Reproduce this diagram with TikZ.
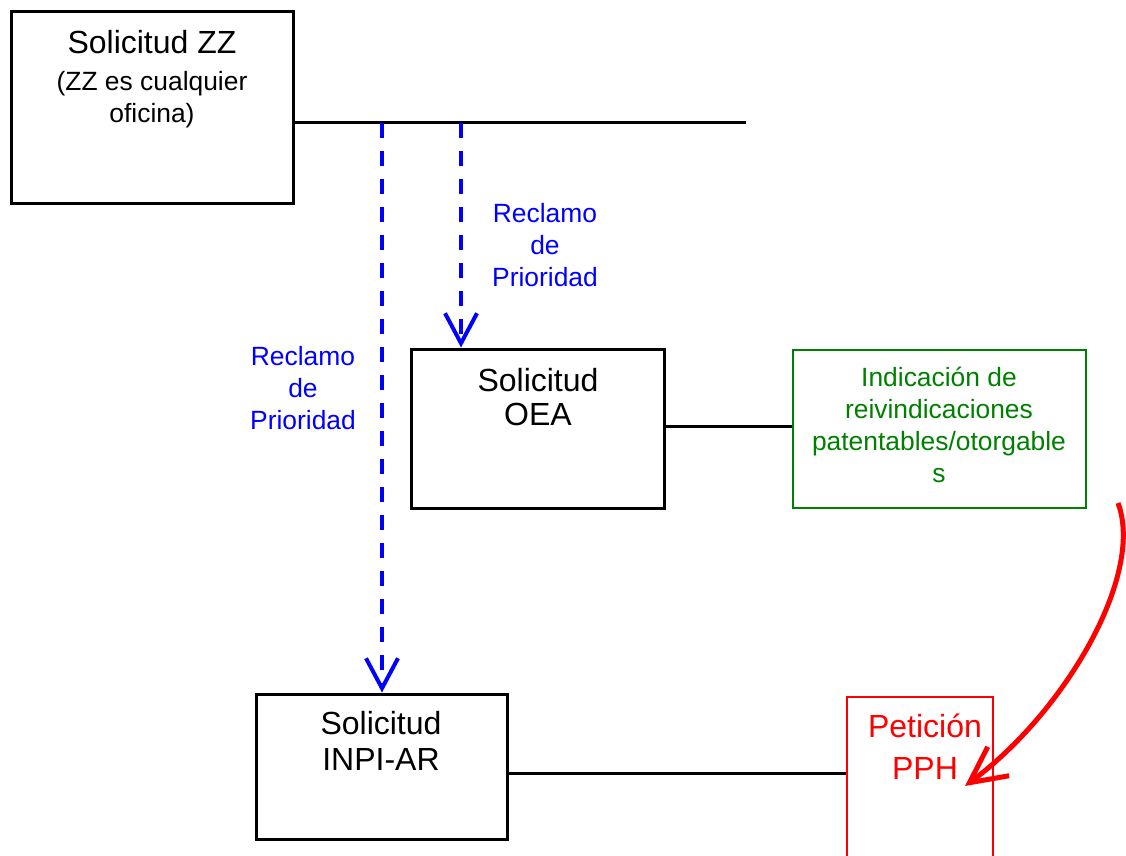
\documentclass[tikz,border=0pt]{standalone}
\usepackage{fontspec}
\setmainfont{Liberation Sans}
\usetikzlibrary{arrows.meta}
\definecolor{verde}{RGB}{0,128,0}
\tikzset{
  caja/.style={draw, line width=1.5pt, inner sep=0pt},
  grande/.style={font=\fontsize{16}{17}\selectfont, align=center, inner sep=0pt},
  chico/.style={font=\fontsize{13.2}{15.8}\selectfont, align=center, inner sep=0pt},
  reclamo/.style={blue, line width=2pt, dash pattern=on 7.5pt off 6.5pt,
    -{Straight Barb[length=15pt,width=16pt,line width=2pt]}},
}
\begin{document}
\begin{tikzpicture}[x=0.5pt,y=-0.5pt]
   \useasboundingbox (0,0) rectangle (1126,856);
   % cajas
   \node[caja, minimum width=141pt, minimum height=96pt] (zz) at (152,108) {};
   \node[caja, minimum width=126.5pt, minimum height=79.5pt] (oea) at (537.5,428.5) {};
   \node[caja, minimum width=125.5pt, minimum height=72.5pt] (inpi) at (381.5,766.5) {};
   \node[draw=verde, line width=1pt, minimum width=146.5pt, minimum height=79pt] (ind) at (939.5,429) {};
   \node[draw=red, line width=1pt, minimum width=73pt, minimum height=90pt] (pph) at (920,787) {};
   % textos
   \node[grande] (zztit) at (152,42) {Solicitud ZZ};
   \node[chico, font=\fontsize{13.2}{16}\selectfont] (zznota) at (152,100) {(ZZ es cualquier\\oficina)};
   \node[grande] (oeatxt) at (538,397) {Solicitud\\OEA};
   \node[grande, font=\fontsize{16}{18}\selectfont] (inpitxt) at (381,741) {Solicitud\\INPI-AR};
   \node[grande, red, font=\fontsize{16}{21}\selectfont] (pphtxt) at (925,747) {Petición\\PPH};
   \node[chico, verde, font=\fontsize{13.2}{16}\selectfont] (indtxt) at (939,425) {Indicación de\\reivindicaciones\\patentables/otorgable\\s};
   \node[chico, blue] (rec1) at (545,245) {Reclamo\\de\\Prioridad};
   \node[chico, blue] (rec2) at (303,388) {Reclamo\\de\\Prioridad};
   % lineas
   \coordinate (zzfin) at (746,123);
   \draw[line width=1.5pt] (zz.east |- zzfin) -- (zzfin);
   \coordinate (a1) at (382,123);
   \coordinate (a2) at (461,123);
   \draw[reclamo] (a1) -- (a1 |- inpi.north);
   \draw[reclamo] (a2) -- (a2 |- oea.north);
   \draw[line width=1.5pt] (oea.east |- 0,426) -- (ind.west |- 0,426);
   \draw[line width=1.5pt] (inpi.east |- 0,773) -- (pph.west |- 0,773);
   \coordinate (curva) at (1118,503);
   \coordinate (punta) at (965,786);
   \draw[red, line width=2.5pt, -{Straight Barb[length=18pt,width=18pt,line width=2.5pt]}]
     (curva) .. controls (1145,575) and (1065,712) .. (punta);
\end{tikzpicture}
\end{document}
